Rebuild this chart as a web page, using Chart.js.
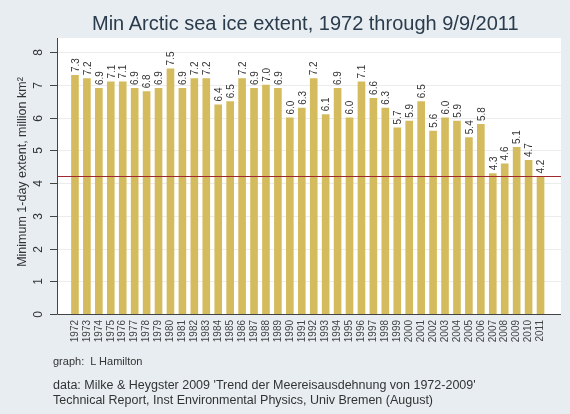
<!DOCTYPE html>
<html>
<head>
<meta charset="utf-8">
<script src="https://cdn.jsdelivr.net/npm/chart.js@4.4.1/dist/chart.umd.min.js"></script>
<style>
  html, body { margin: 0; padding: 0; }
  body { width: 570px; height: 414px; background: #e7edf1; position: relative; overflow: hidden;
         font-family: "Liberation Sans", Arial, sans-serif; }
  #c { position: absolute; left: 0; top: 0; }
  .txt { position: absolute; white-space: nowrap; color: #333; }
  #title { left: 92px; top: 11px; font-size: 20px; line-height: 24px; color: #2a3b4c; }
  #credit { left: 53px; top: 354px; font-size: 11px; line-height: 14px; }
  #source { left: 53px; top: 378px; font-size: 12.5px; line-height: 15px; }
</style>
</head>
<body>
<canvas id="c" width="570" height="414"></canvas>
<div class="txt" id="title">Min Arctic sea ice extent, 1972 through 9/9/2011</div>
<div class="txt" id="credit">graph:&nbsp; L Hamilton</div>
<div class="txt" id="source">data: Milke &amp; Heygster 2009 'Trend der Meereisausdehnung von 1972-2009'<br>Technical Report, Inst Environmental Physics, Univ Bremen (August)</div>
<script>
const years = ["1972","1973","1974","1975","1976","1977","1978","1979","1980","1981",
               "1982","1983","1984","1985","1986","1987","1988","1989","1990","1991",
               "1992","1993","1994","1995","1996","1997","1998","1999","2000","2001",
               "2002","2003","2004","2005","2006","2007","2008","2009","2010","2011"];
const extent = [7.3,7.2,6.9,7.1,7.1,6.9,6.8,6.9,7.5,6.9,
                7.2,7.2,6.4,6.5,7.2,6.9,7.0,6.9,6.0,6.3,
                7.2,6.1,6.9,6.0,7.1,6.6,6.3,5.7,5.9,6.5,
                5.6,6.0,5.9,5.4,5.8,4.3,4.6,5.1,4.7,4.2];
const yTicks = [0,1,2,3,4,5,6,7,8];
const refLine = 4.2;
const yTitle = "Minimum 1-day extent, million km\u00B2";

const GAP_L = 12, EXT_R = 14.5, PLOT_TOP = 38;

const decor = {
  id: 'decor',
  beforeDraw(chart) {
    const { ctx, chartArea: a, scales: { y } } = chart;
    const L = a.left - GAP_L, R = a.right + EXT_R;
    ctx.save();
    ctx.fillStyle = '#ffffff';
    ctx.fillRect(L, PLOT_TOP, R - L, a.bottom - PLOT_TOP);
    ctx.strokeStyle = '#ececec';
    ctx.lineWidth = 1;
    yTicks.forEach(v => {
      if (v === 0) return;
      const py = Math.round(y.getPixelForValue(v)) + 0.5;
      ctx.beginPath(); ctx.moveTo(L, py); ctx.lineTo(R, py); ctx.stroke();
    });
    ctx.restore();
  },
  afterDatasetsDraw(chart) {
    const { ctx, chartArea: a, scales: { y } } = chart;
    const L = a.left - GAP_L, R = a.right + EXT_R;
    ctx.save();
    const ry = Math.round(y.getPixelForValue(refLine)) + 0.5;
    ctx.strokeStyle = '#9e2a2f';
    ctx.lineWidth = 1;
    ctx.beginPath(); ctx.moveTo(L, ry); ctx.lineTo(R, ry); ctx.stroke();
    ctx.strokeStyle = '#444';
    ctx.beginPath();
    ctx.moveTo(L + 0.5, PLOT_TOP); ctx.lineTo(L + 0.5, a.bottom + 0.5); ctx.lineTo(R, a.bottom + 0.5);
    ctx.stroke();
    ctx.fillStyle = '#333';
    ctx.font = '12px "Liberation Sans", Arial, sans-serif';
    ctx.textAlign = 'center';
    ctx.textBaseline = 'middle';
    yTicks.forEach(v => {
      const py = Math.round(y.getPixelForValue(v)) + 0.5;
      ctx.beginPath(); ctx.moveTo(L - 7, py); ctx.lineTo(L, py); ctx.stroke();
      ctx.save();
      ctx.translate(L - 18, py);
      ctx.rotate(-Math.PI / 2);
      ctx.fillText(String(v), 0, 0);
      ctx.restore();
    });
    ctx.save();
    ctx.font = '12.5px "Liberation Sans", Arial, sans-serif';
    ctx.translate(L - 34, (PLOT_TOP + a.bottom) / 2 - 4);
    ctx.rotate(-Math.PI / 2);
    ctx.fillText(yTitle, 0, 0);
    ctx.restore();
    const meta = chart.getDatasetMeta(0);
    ctx.font = '10px "Liberation Sans", Arial, sans-serif';
    ctx.textAlign = 'left';
    ctx.textBaseline = 'middle';
    meta.data.forEach((bar, i) => {
      ctx.save();
      ctx.translate(bar.x + 1, bar.y - 3);
      ctx.rotate(-Math.PI / 2);
      ctx.fillText(extent[i].toFixed(1), 0, 0);
      ctx.restore();
    });
    ctx.restore();
  }
};

new Chart(document.getElementById('c'), {
  type: 'bar',
  data: {
    labels: years,
    datasets: [{
      data: extent,
      backgroundColor: '#d4bb5d',
      borderWidth: 0,
      categoryPercentage: 1.0,
      barPercentage: 0.64
    }]
  },
  options: {
    responsive: false,
    animation: false,
    layout: { padding: { left: 69, right: 23.5, top: PLOT_TOP, bottom: 60 } },
    plugins: { legend: { display: false }, tooltip: { enabled: false }, title: { display: false } },
    scales: {
      x: {
        offset: true,
        grid: { display: false, drawTicks: false },
        border: { display: false },
        ticks: {
          autoSkip: false, maxRotation: 90, minRotation: 90, padding: 6,
          color: '#444', font: { size: 10, family: '"Liberation Sans", Arial, sans-serif' }
        },
        afterFit(s) { s.height = 40; }
      },
      y: {
        min: 0, max: 8.43,
        ticks: { display: false },
        grid: { display: false },
        border: { display: false },
        afterFit(s) { s.width = 0; }
      }
    }
  },
  plugins: [decor]
});
</script>
</body>
</html>
